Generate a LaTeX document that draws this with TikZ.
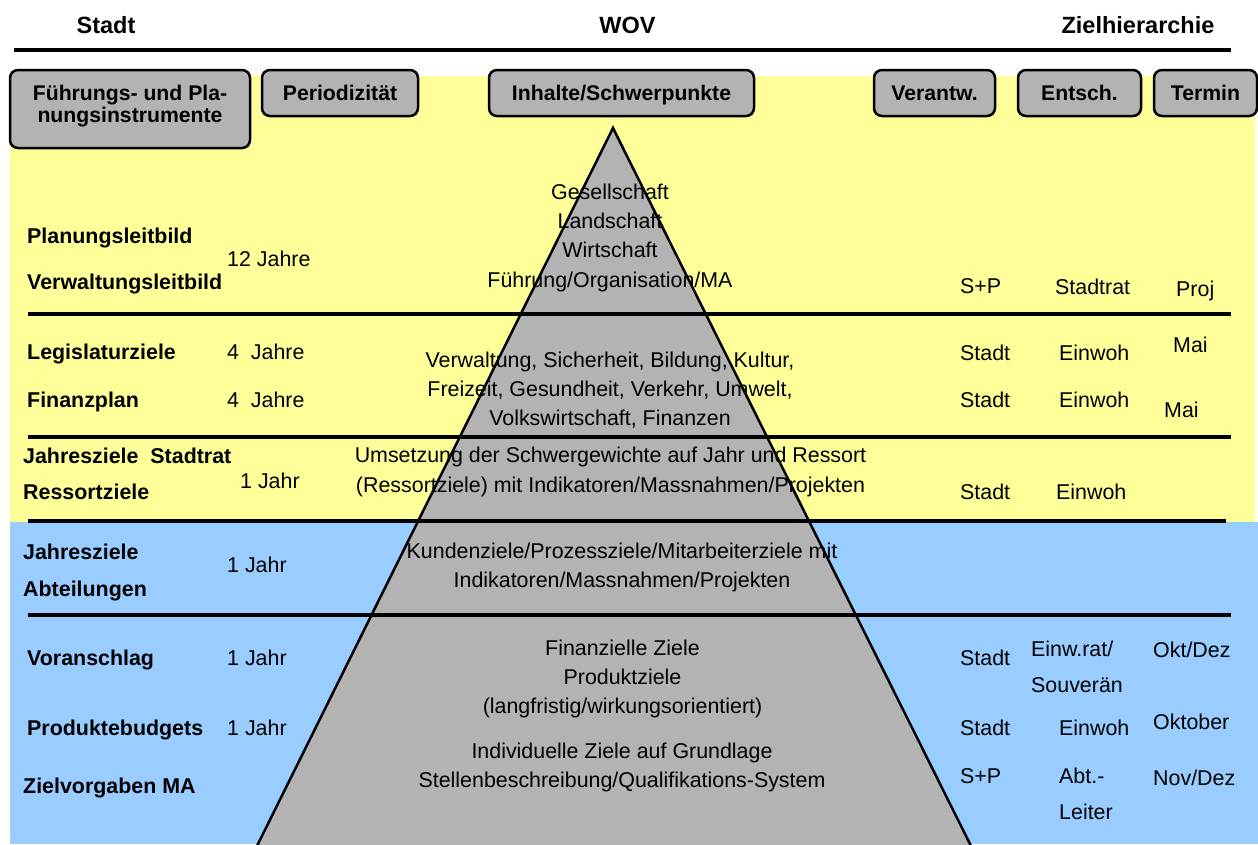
\documentclass[tikz,border=0pt]{standalone}
\usepackage{fontspec}
\setmainfont{Liberation Sans}
\definecolor{yel}{HTML}{FFFF99}
\definecolor{blu}{HTML}{99CCFF}
\definecolor{gry}{HTML}{B3B3B3}
\begin{document}
\begin{tikzpicture}[x=1pt,y=-1pt,
  lab/.style={font=\fontsize{21.4}{25}\selectfont, inner sep=0pt, anchor=base west},
  blab/.style={lab, font=\bfseries\fontsize{21.4}{25}\selectfont},
  ctr/.style={lab, anchor=base},
  ttl/.style={font=\bfseries\fontsize{23.5}{27}\selectfont, inner sep=0pt, anchor=base},
  hbox/.style={draw, line width=2.5pt, rounded corners=8pt, fill=gry, inner sep=0pt,
    font=\bfseries\fontsize{21.2}{22.5}\selectfont, align=center},
  onel/.style={text height=15pt, text depth=0pt, minimum height=46pt},
  sep/.style={line width=4.7pt},
  pyr/.style={line width=2.5pt, line join=miter}
]
\useasboundingbox (0,0) rectangle (1258,844);
% backgrounds
\fill[yel] (10,76) rectangle (1255,522);
\fill[blu] (10,522) rectangle (1258,844);
% pyramid
\fill[gry] (255,850) -- (613,128) -- (973,850) -- cycle;
\draw[pyr] (255,850) -- (613,128) -- (973,850);
% separators
\draw[sep] (14,50) -- (1231,50);
\draw[sep] (28,314) -- (1231,314);
\draw[sep] (28,437) -- (1231,437);
\draw[sep] (28,521) -- (1226,521);
\draw[sep] (28,615) -- (1231,615);
% titles
\node[ttl] (tstadt) at (106,33) {Stadt};
\node[ttl] (twov) at (627.5,33) {WOV};
\node[ttl] (tziel) at (1138,33) {Zielhierarchie};
% header boxes
\node[hbox, minimum width=240pt, minimum height=78pt] (fp) at (130,109)
  {Führungs- und Pla-\\nungsinstrumente\rule[-10pt]{0pt}{10pt}};
\node[hbox, onel, minimum width=156pt] (per) at (340,93) {Periodizität};
\node[hbox, onel, minimum width=265pt] (inh) at (621.5,93) {Inhalte/Schwerpunkte};
\node[hbox, onel, minimum width=121pt] (ver) at (934.5,93) {Verantw.};
\node[hbox, onel, minimum width=123pt] (ent) at (1079.5,93) {Entsch.};
\node[hbox, onel, minimum width=103pt] (ter) at (1205.5,93) {Termin};
% left column
\node[blab] (pl) at (27,243) {Planungsleitbild};
\node[lab] (j12) at (227,266) {12 Jahre};
\node[blab] (vl) at (27,289) {Verwaltungsleitbild};
\node[blab] (lz) at (27,359) {Legislaturziele};
\node[lab] (lz4) at (227,359) {4\ \ Jahre};
\node[blab] (fin) at (27,407) {Finanzplan};
\node[lab] (fin4) at (227,407) {4\ \ Jahre};
\node[blab] (jzs) at (23,463) {Jahresziele\ \ Stadtrat};
\node[lab] (j1a) at (240,488) {1 Jahr};
\node[blab] (rz) at (23,499) {Ressortziele};
\node[blab] (jza) at (23,559) {Jahresziele};
\node[lab] (j1b) at (227,572) {1 Jahr};
\node[blab] (abt) at (23,596) {Abteilungen};
\node[blab] (vor) at (27,665) {Voranschlag};
\node[lab] (j1c) at (227,665) {1 Jahr};
\node[blab] (pb) at (27,735) {Produktebudgets};
\node[lab] (j1d) at (227,735) {1 Jahr};
\node[blab] (zma) at (23,793) {Zielvorgaben MA};
% centre texts
\node[ctr] (c1a) at (610,199) {Gesellschaft};
\node[ctr] (c1b) at (610,228) {Landschaft};
\node[ctr] (c1c) at (610,257) {Wirtschaft};
\node[ctr] (c1d) at (610,287) {Führung/Organisation/MA};
\node[ctr] (c2a) at (610,367) {Verwaltung, Sicherheit, Bildung, Kultur,};
\node[ctr] (c2b) at (610,396) {Freizeit, Gesundheit, Verkehr, Umwelt,};
\node[ctr] (c2c) at (610,425) {Volkswirtschaft, Finanzen};
\node[ctr] (c3a) at (610.5,462) {Umsetzung der Schwergewichte auf Jahr und Ressort};
\node[ctr] (c3b) at (610.5,492) {(Ressortziele) mit Indikatoren/Massnahmen/Projekten};
\node[ctr] (c4a) at (622,558) {Kundenziele/Prozessziele/Mitarbeiterziele mit};
\node[ctr] (c4b) at (622,587) {Indikatoren/Massnahmen/Projekten};
\node[ctr] (c5a) at (622.5,655) {Finanzielle Ziele};
\node[ctr] (c5b) at (622.5,684) {Produktziele};
\node[ctr] (c5c) at (622.5,713) {(langfristig/wirkungsorientiert)};
\node[ctr] (c6a) at (622,758) {Individuelle Ziele auf Grundlage};
\node[ctr] (c6b) at (622,787) {Stellenbeschreibung/Qualifikations-System};
% right columns
\node[lab] (sp1) at (960,293) {S+P};
\node[lab] (sr1) at (1055,294) {Stadtrat};
\node[lab] (proj) at (1176,296) {Proj};
\node[lab] (st2) at (960,360) {Stadt};
\node[lab] (ew2) at (1059,360) {Einwoh};
\node[lab] (mai2) at (1173,352) {Mai};
\node[lab] (st3) at (960,407) {Stadt};
\node[lab] (ew3) at (1059,407) {Einwoh};
\node[lab] (mai3) at (1164,417) {Mai};
\node[lab] (st4) at (960,499) {Stadt};
\node[lab] (ew4) at (1056,499) {Einwoh};
\node[lab] (st5) at (960,665) {Stadt};
\node[lab] (ewr) at (1031,656) {Einw.rat/};
\node[lab] (souv) at (1031,692) {Souverän};
\node[lab] (okt) at (1153,657) {Okt/Dez};
\node[lab] (st6) at (960,735) {Stadt};
\node[lab] (ew6) at (1059,735) {Einwoh};
\node[lab] (oktob) at (1153,729) {Oktober};
\node[lab] (sp7) at (960,783) {S+P};
\node[lab] (abt7) at (1059,783) {Abt.-};
\node[lab] (leit) at (1059,819) {Leiter};
\node[lab] (nov) at (1153,785) {Nov/Dez};
\end{tikzpicture}
\end{document}
